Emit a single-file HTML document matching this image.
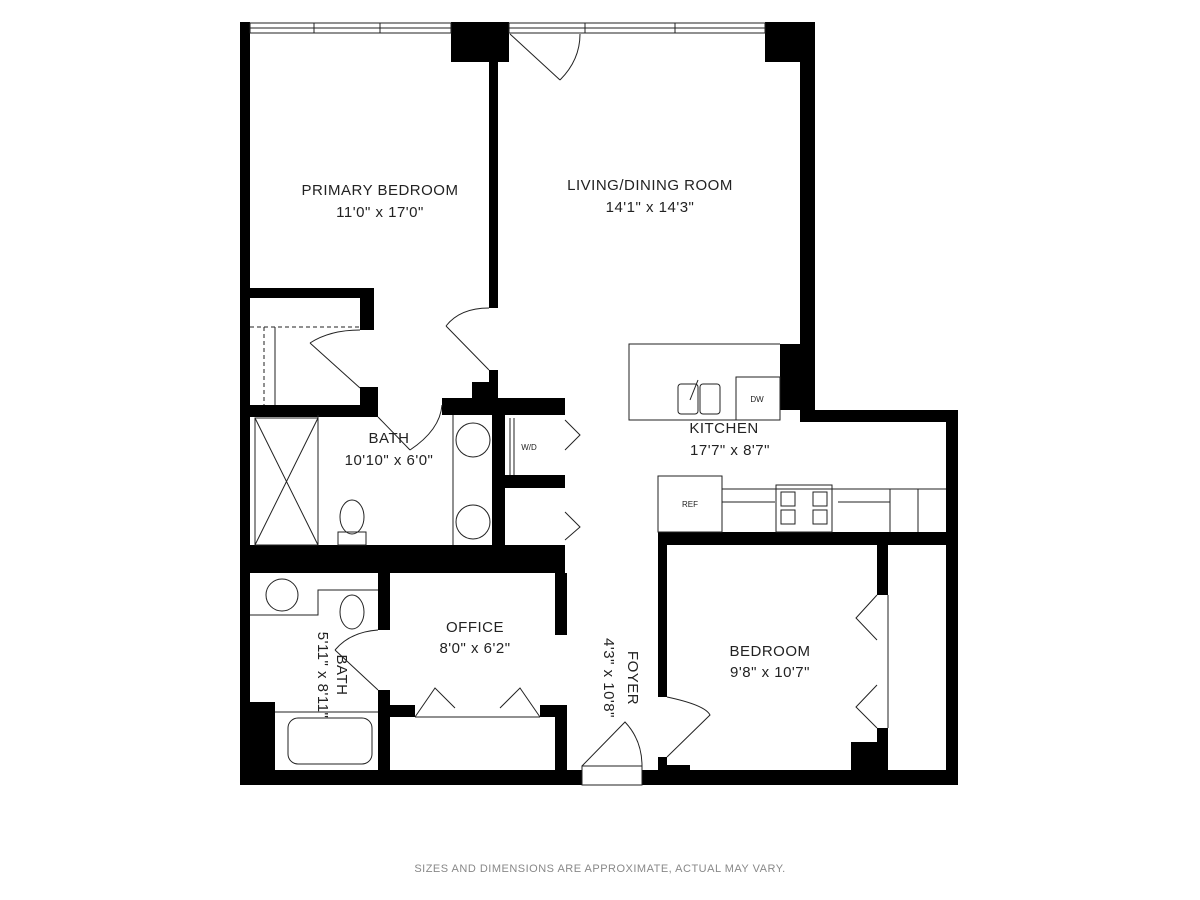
<!DOCTYPE html>
<html><head><meta charset="utf-8"><style>
html,body{margin:0;padding:0;background:#fff;width:1200px;height:900px;overflow:hidden}
svg{display:block}
text{font-family:"Liberation Sans",sans-serif;fill:#222}
</style></head><body>
<svg width="1200" height="900" viewBox="0 0 1200 900" xmlns="http://www.w3.org/2000/svg">
<g fill="#000">
<rect x="240" y="22" width="10" height="763"/>
<rect x="240" y="770" width="342" height="15"/>
<rect x="642" y="770" width="316" height="15"/>
<rect x="946" y="410" width="12" height="375"/>
<rect x="800" y="410" width="158" height="12"/>
<rect x="800" y="22" width="15" height="400"/>
<rect x="451" y="22" width="58" height="40"/>
<rect x="765" y="22" width="35" height="40"/>
<rect x="489" y="62" width="9" height="246"/>
<rect x="489" y="370" width="9" height="40"/>
<rect x="472" y="382" width="26" height="28"/>
<rect x="240" y="405" width="138" height="12"/>
<rect x="442" y="398" width="123" height="17"/>
<rect x="250" y="288" width="124" height="10"/>
<rect x="360" y="288" width="14" height="42"/>
<rect x="360" y="387" width="18" height="20"/>
<rect x="240" y="545" width="325" height="28"/>
<rect x="492" y="415" width="13" height="130"/>
<rect x="505" y="475" width="60" height="13"/>
<rect x="378" y="573" width="12" height="57"/>
<rect x="378" y="690" width="12" height="80"/>
<rect x="250" y="702" width="25" height="68"/>
<rect x="555" y="573" width="12" height="62"/>
<rect x="390" y="705" width="25" height="12"/>
<rect x="540" y="705" width="27" height="12"/>
<rect x="555" y="705" width="12" height="65"/>
<rect x="780" y="344" width="35" height="66"/>
<rect x="658" y="532" width="300" height="13"/>
<rect x="658" y="545" width="9" height="152"/>
<rect x="658" y="757" width="9" height="28"/>
<rect x="658" y="765" width="32" height="20"/>
<rect x="877" y="545" width="11" height="50"/>
<rect x="877" y="728" width="11" height="50"/>
<rect x="851" y="742" width="37" height="33"/>
</g>
<g fill="none" stroke="#222" stroke-width="1">
<rect x="250" y="23" width="201" height="10"/><line x1="250" y1="28" x2="451" y2="28"/>
<line x1="314" y1="23" x2="314" y2="33"/><line x1="380" y1="23" x2="380" y2="33"/>
<rect x="509" y="23" width="256" height="10"/><line x1="509" y1="28" x2="765" y2="28"/>
<line x1="585" y1="23" x2="585" y2="33"/><line x1="675" y1="23" x2="675" y2="33"/>
<path d="M510 34 L560 80 M560 80 Q580 60 580 34"/>
<path d="M489 370 L446 326 M446 326 Q460 308 489 308"/>
<path d="M360 388 L310 343 M310 343 Q330 330 360 330"/>
<path d="M378 417 L410 450 M410 450 Q440 430 442 405"/>
<path d="M378 690 L335 650 M335 650 Q350 632 378 630"/>
<path d="M582 766 L625 722 Q642 740 642 766"/>
<path d="M667 697 Q705 705 710 715 L667 757"/>
<rect x="582" y="766" width="60" height="19"/>
<path d="M565 420 L580 435 L565 450 M565 512 L580 527 L565 540"/>
<path d="M415 717 L435 688 L455 708 M500 708 L520 688 L540 717"/>
<path d="M877 595 L856 618 L877 640 M877 685 L856 707 L877 728"/>
<line x1="888" y1="595" x2="888" y2="728"/>
<line x1="250" y1="327" x2="360" y2="327" stroke-dasharray="4,3"/>
<line x1="264" y1="327" x2="264" y2="405" stroke-dasharray="4,3"/>
<line x1="275" y1="327" x2="275" y2="405"/>
<rect x="255" y="418" width="63" height="127"/>
<path d="M255 418 L318 545 M318 418 L255 545"/>
<line x1="318" y1="415" x2="318" y2="545"/>
<ellipse cx="352" cy="517" rx="12" ry="17"/><rect x="338" y="532" width="28" height="13"/>
<line x1="453" y1="415" x2="453" y2="545"/>
<circle cx="473" cy="440" r="17"/><circle cx="473" cy="522" r="17"/>
<line x1="510" y1="418" x2="510" y2="475"/><line x1="514" y1="418" x2="514" y2="475"/>
<path d="M250 615 L318 615 L318 590 L378 590"/>
<circle cx="282" cy="595" r="16"/>
<ellipse cx="352" cy="612" rx="12" ry="17"/>
<line x1="275" y1="712" x2="378" y2="712"/>
<rect x="288" y="718" width="84" height="46" rx="10"/>
<line x1="415" y1="717" x2="540" y2="717"/>
<path d="M780 344 L629 344 L629 420 L780 420"/>
<rect x="736" y="377" width="44" height="43"/>
<rect x="678" y="384" width="20" height="30" rx="3"/><rect x="700" y="384" width="20" height="30" rx="3"/>
<line x1="690" y1="400" x2="698" y2="380"/>
<rect x="658" y="476" width="64" height="56"/>
<path d="M722 489 L946 489 M722 502 L775 502 M838 502 L890 502 M890 489 L890 532 M918 489 L918 532"/>
<rect x="776" y="485" width="56" height="47"/>
<rect x="781" y="492" width="14" height="14"/><rect x="813" y="492" width="14" height="14"/>
<rect x="781" y="510" width="14" height="14"/><rect x="813" y="510" width="14" height="14"/>
</g>
<g font-size="15" text-anchor="middle" letter-spacing="0.5">
<text x="380" y="195">PRIMARY BEDROOM</text><text x="380" y="217">11'0" x 17'0"</text>
<text x="650" y="190">LIVING/DINING ROOM</text><text x="650" y="212">14'1" x 14'3"</text>
<text x="389" y="443">BATH</text><text x="389" y="465">10'10" x 6'0"</text>
<text x="475" y="632">OFFICE</text><text x="475" y="653">8'0" x 6'2"</text>
<text x="724" y="433">KITCHEN</text><text x="730" y="455">17'7" x 8'7"</text>
<text x="770" y="656">BEDROOM</text><text x="770" y="677">9'8" x 10'7"</text>
<text transform="translate(628 678) rotate(90)">FOYER</text>
<text transform="translate(604 678) rotate(90)">4'3" x 10'8"</text>
<text transform="translate(337 675) rotate(90)">BATH</text>
<text transform="translate(318 675) rotate(90)">5'11" x 8'11"</text>
</g>
<g font-size="8" text-anchor="middle"><text x="529" y="450">W/D</text><text x="757" y="402">DW</text><text x="690" y="507">REF</text></g>
<text x="600" y="872" font-size="11" text-anchor="middle" style="fill:#888" letter-spacing="0.5">SIZES AND DIMENSIONS ARE APPROXIMATE, ACTUAL MAY VARY.</text>
</svg>
</body></html>
